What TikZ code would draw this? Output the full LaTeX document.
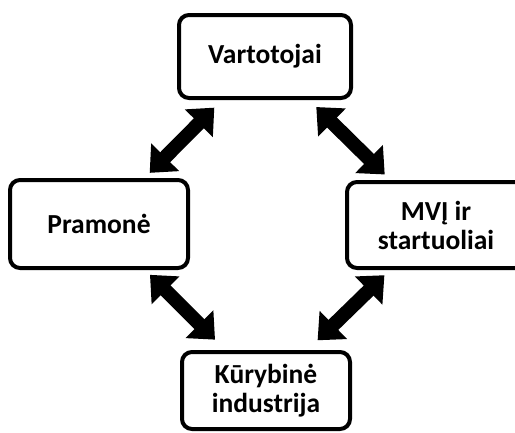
\documentclass[tikz,border=0pt]{standalone}
\usepackage{fontspec}
\setmainfont{Carlito}
\usetikzlibrary{arrows.meta}
\tikzset{
	box/.style={draw,line width=4pt,rounded corners=10pt,align=center,font=\fontsize{27.5}{29}\selectfont\bfseries},
	link/.style={line width=14pt,{Triangle[width=38pt,length=22pt]}-{Triangle[width=38pt,length=22pt]},shorten <=72pt,shorten >=72pt}
}
\begin{document}
\begin{tikzpicture}[x=1pt,y=-1pt]
			\useasboundingbox (0,0) rectangle (515,432); %same size as the reference
			\node[box,minimum width=172pt,minimum height=83pt] (vrt) at (265,56.5) {Vartotojai};
			\node[box,minimum width=178pt,minimum height=88pt] (prm) at (99,224) {Pramonė};
			\node[box,minimum width=178pt,minimum height=86pt] (mvi) at (436,225) {MVĮ ir\\startuoliai};
			\node[box,minimum width=168pt,minimum height=77pt] (kur) at (266,390.5) {Kūrybinė\\industrija};
			\draw[link] (prm.center) -- (vrt.center);
			\draw[link] (vrt.center) -- (mvi.center);
			\draw[link] (prm.center) -- (kur.center);
			\draw[link] (mvi.center) -- (kur.center);
		\end{tikzpicture}
\end{document}
